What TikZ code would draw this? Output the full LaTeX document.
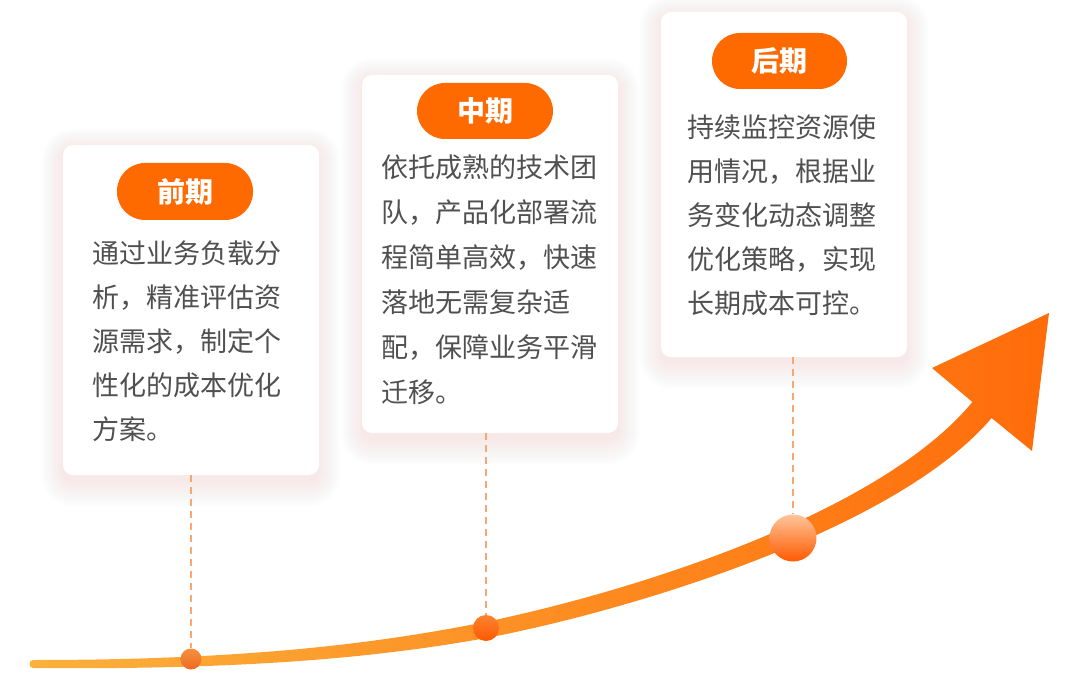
\documentclass[tikz,border=0pt]{standalone}
\usepackage{fontspec}
\newfontfamily\cjk{Noto Sans CJK SC}
\definecolor{pillc}{HTML}{FF6A00}
\definecolor{bodyc}{HTML}{505050}
\definecolor{dashc}{HTML}{F7A870}
\definecolor{curveL}{HTML}{FBB13C}
\definecolor{curveM}{HTML}{FCA033}
\definecolor{curveR}{HTML}{FF6C0A}
\definecolor{shadowc}{HTML}{F8A070}
\definecolor{dotaT}{HTML}{F59140}
\definecolor{dotaB}{HTML}{EE6A20}
\definecolor{dotbT}{HTML}{FA8430}
\definecolor{dotbB}{HTML}{FF5800}
\definecolor{dotcT}{HTML}{FFC49A}
\definecolor{dotcB}{HTML}{FF5A00}
\tikzset{
  card/.style={fill=white, rounded corners=10pt, inner sep=0},
  pill/.style={fill=pillc, rounded corners=28pt, inner sep=0, text=white,
    font=\cjk\bfseries\fontsize{28}{28}\selectfont},
  body/.style={text=bodyc, inner sep=0, align=left, text width=240pt, anchor=base west},
  dashline/.style={draw=dashc, line width=2pt, dash pattern=on 7pt off 5pt},
  dot/.style={circle, inner sep=0, draw=none},
}
\newcommand\cardshade[4]{%
  \foreach \i in {1,...,22}{%
    \fill[shadowc, opacity=0.0055, rounded corners=10+\i]
      (#1-\i,#2-\i+5) rectangle (#3+\i,#4+1.2*\i+6);
  }%
}
\begin{document}
\begin{tikzpicture}[x=1pt,y=-1pt]
\useasboundingbox[fill=white] (0,0) rectangle (1080,690);

% card shadows
\cardshade{63}{145}{319}{475}
\cardshade{362}{75}{618}{433}
\cardshade{661}{12}{907}{357}

% cards
\node[card, minimum width=256pt, minimum height=330pt] (c1) at (191,310) {};
\node[card, minimum width=256pt, minimum height=358pt] (c2) at (490,254) {};
\node[card, minimum width=246pt, minimum height=345pt] (c3) at (784,184.5) {};

% pills
\node[pill, minimum width=136pt, minimum height=57pt] (p1) at (185,191.5) {前期};
\node[pill, minimum width=136pt, minimum height=56pt] (p2) at (485,111) {中期};
\node[pill, minimum width=135pt, minimum height=56pt] (p3) at (779.5,61) {后期};

% body texts
\node[body, font=\cjk\fontsize{27}{44}\selectfont] (t1) at (92,263.5)
  {通过业务负载分\\析，精准评估资\\源需求，制定个\\性化的成本优化\\方案。};
\node[body, font=\cjk\fontsize{27}{45}\selectfont] (t2) at (381,177.5)
  {依托成熟的技术团\\队，产品化部署流\\程简单高效，快速\\落地无需复杂适\\配，保障业务平滑\\迁移。};
\node[body, font=\cjk\fontsize{27}{44}\selectfont] (t3) at (687,137.5)
  {持续监控资源使\\用情况，根据业\\务变化动态调整\\优化策略，实现\\长期成本可控。};

% growth arrow
\shade[left color=curveL, middle color=curveM, right color=curveR]
  (33,660) .. controls (250,660) and (378.7,643.1) .. (484.4,622.2)
  .. controls (638.2,590.2) and (881.1,512.6) .. (972.4,402)
  -- (932,368) -- (1049,313) -- (1032,451) -- (991.6,418)
  .. controls (898.9,527.4) and (641.8,607.8) .. (487.6,637.8)
  .. controls (381.3,656.9) and (250,670) .. (33,668)
  .. controls (28.5,668) and (28.5,660) .. (33,660) -- cycle;

% dots
\node[dot, minimum size=21pt, top color=dotaT, bottom color=dotaB] (d1) at (191,659) {};
\node[dot, minimum size=26pt, top color=dotbT, bottom color=dotbB] (d2) at (486,628) {};
\node[dot, minimum size=47pt, top color=dotcT, bottom color=dotcB] (d3) at (793,538) {};

% dashed connectors
\draw[dashline] (d1 |- c1.south) -- (d1.north);
\draw[dashline] (d2 |- c2.south) -- (d2.north);
\draw[dashline] (d3 |- c3.south) -- (d3.north);
\end{tikzpicture}
\end{document}
